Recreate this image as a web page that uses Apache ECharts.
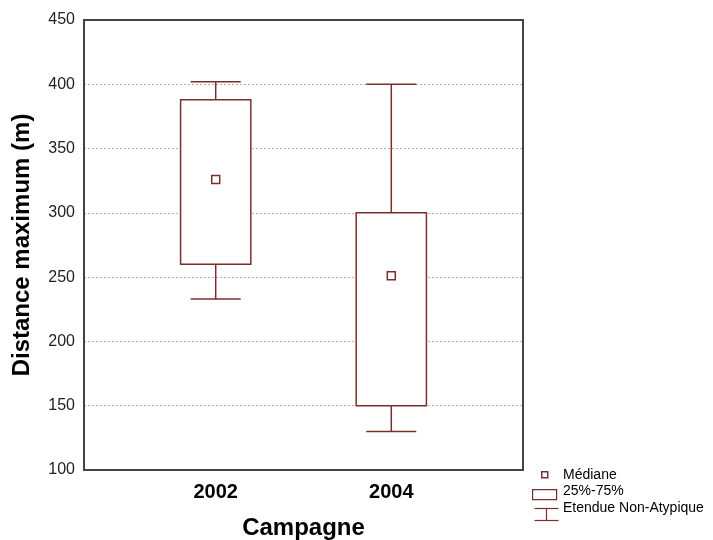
<!DOCTYPE html>
<html>
<head>
<meta charset="utf-8">
<script src="https://cdn.jsdelivr.net/npm/echarts@6/dist/echarts.min.js"></script>
<style>
    html, body { margin: 0; padding: 0; background: #fff; }
    #chart { width: 713px; height: 540px; }
</style>
</head>
<body>
<div id="chart"></div>
<script>
// categories on the x axis (only 2002 and 2004 carry a label)
const categories = ['2001', '2002', '2003', '2004', '2005']
const shownYears = ['2002', '2004']

// box plot values per year
const years = ['2002', '2004']
const whiskerLow = [233, 130]
const q1 = [260, 150]
const medians = [326, 251]
const q3 = [388, 300]
const whiskerHigh = [402, 400]

const yTicks = { min: 100, max: 450, interval: 50 }

const boxColor = '#7a2f2f'
const fontFam = 'Arial, "Liberation Sans", sans-serif'

const boxData = years.map((y, i) => [y, whiskerLow[i], q1[i], medians[i], q3[i], whiskerHigh[i]])

function renderBox(params, api) {
    const x = api.value(0)
    const pLow = api.coord([x, api.value(1)])
    const pQ1 = api.coord([x, api.value(2)])
    const pMed = api.coord([x, api.value(3)])
    const pQ3 = api.coord([x, api.value(4)])
    const pHigh = api.coord([x, api.value(5)])
    const band = api.size([1, 0])[0]
    const bw = band * 0.8
    const cw = band * 0.57
    const cx = pMed[0]
    const line = { stroke: boxColor, lineWidth: 1.5 }
    return {
        type: 'group',
        children: [
            // moustaches
            { type: 'line', shape: { x1: cx, y1: pHigh[1], x2: cx, y2: pQ3[1] }, style: line },
            { type: 'line', shape: { x1: cx - cw / 2, y1: pHigh[1], x2: cx + cw / 2, y2: pHigh[1] }, style: line },
            { type: 'line', shape: { x1: cx, y1: pQ1[1], x2: cx, y2: pLow[1] }, style: line },
            { type: 'line', shape: { x1: cx - cw / 2, y1: pLow[1], x2: cx + cw / 2, y2: pLow[1] }, style: line },
            // boite 25%-75%
            {
                type: 'rect',
                shape: { x: cx - bw / 2, y: pQ3[1], width: bw, height: pQ1[1] - pQ3[1] },
                style: { fill: '#fff', stroke: boxColor, lineWidth: 1.5 }
            },
            // mediane
            {
                type: 'rect',
                shape: { x: cx - 4, y: pMed[1] - 4, width: 8, height: 8 },
                style: { fill: '#fff', stroke: boxColor, lineWidth: 1.5 }
            }
        ]
    }
}

const chart = echarts.init(document.getElementById('chart'))

const legendFont = '14px Arial, "Liberation Sans", sans-serif'

const option = {
    backgroundColor: '#fff',
    animation: false,
    grid: {
        left: 84,
        right: 190,
        top: 20,
        bottom: 70,
        outerBoundsMode: 'none',
        containLabel: false,
        show: true,
        borderColor: '#444',
        borderWidth: 2,
        backgroundColor: '#fff'
    },
    xAxis: {
        type: 'category',
        data: categories,
        name: 'Campagne',
        nameLocation: 'middle',
        nameGap: 46,
        nameTextStyle: {
            fontFamily: fontFam,
            fontWeight: 'bold',
            fontSize: 24,
            color: '#000'
        },
        axisLine: { lineStyle: { color: '#444', width: 2 } },
        axisTick: { alignWithLabel: true, inside: true, length: 3, lineStyle: { color: '#444' } },
        axisLabel: {
            interval: 0,
            margin: 12,
            fontFamily: fontFam,
            fontWeight: 'bold',
            fontSize: 20,
            color: '#000',
            formatter: v => (shownYears.includes(v) ? v : '')
        },
        splitLine: { show: false }
    },
    yAxis: {
        type: 'value',
        min: yTicks.min,
        max: yTicks.max,
        interval: yTicks.interval,
        name: 'Distance maximum (m)',
        nameLocation: 'middle',
        nameGap: 50,
        nameTextStyle: {
            fontFamily: fontFam,
            fontWeight: 'bold',
            fontSize: 24,
            color: '#000'
        },
        axisLine: { show: true, lineStyle: { color: '#444', width: 2 } },
        axisTick: { show: false },
        axisLabel: {
            margin: 9,
            fontFamily: fontFam,
            fontSize: 16,
            color: '#222'
        },
        splitLine: {
            showMinLine: false,
            showMaxLine: false,
            lineStyle: { color: '#b0b0b0', type: [2, 2], width: 1 }
        }
    },
    series: [
        {
            type: 'custom',
            name: 'boites',
            renderItem: renderBox,
            encode: { x: 0, y: [1, 2, 3, 4, 5] },
            data: boxData,
            z: 3
        }
    ],
    graphic: [
        // legende
        { type: 'rect', left: 541, top: 471, shape: { width: 6, height: 6 }, style: { fill: '#fff', stroke: boxColor, lineWidth: 1.5 } },
        { type: 'text', left: 563, top: 468, style: { text: 'Médiane', font: legendFont, fill: '#000' } },
        { type: 'rect', left: 532, top: 489, shape: { width: 24, height: 10 }, style: { fill: '#fff', stroke: boxColor, lineWidth: 1.2 } },
        { type: 'text', left: 563, top: 484, style: { text: '25%-75%', font: legendFont, fill: '#000' } },
        {
            type: 'group',
            left: 532,
            top: 506,
            children: [
                { type: 'line', shape: { x1: 0, y1: 0, x2: 24, y2: 0 }, style: { stroke: boxColor, lineWidth: 1.2 } },
                { type: 'line', shape: { x1: 12, y1: 0, x2: 12, y2: 12 }, style: { stroke: boxColor, lineWidth: 1.2 } },
                { type: 'line', shape: { x1: 0, y1: 12, x2: 24, y2: 12 }, style: { stroke: boxColor, lineWidth: 1.2 } }
            ]
        },
        { type: 'text', left: 563, top: 501, style: { text: 'Etendue Non-Atypique', font: legendFont, fill: '#000' } }
    ]
}

chart.setOption(option)
</script>
</body>
</html>
